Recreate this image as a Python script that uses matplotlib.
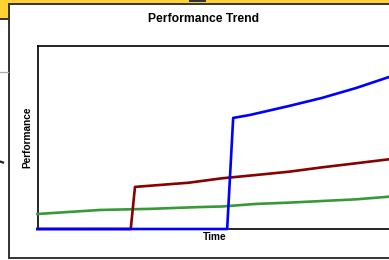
import matplotlib
matplotlib.use("Agg")
import matplotlib.pyplot as plt
from matplotlib.patches import Rectangle
from matplotlib.lines import Line2D

# ---- data (time units 0..100, performance 0..100) ----
blue_x = [0, 53.5, 55.2, 59.9, 70.9, 80.2, 89.8, 100]
blue_y = [0, 0, 60.7, 62.3, 67.2, 71.6, 77.0, 83.6]

red_x = [0, 26.3, 27.5, 42.7, 52.0, 61.6, 70.9, 80.3, 89.8, 100]
red_y = [0, 0, 23.0, 25.3, 27.7, 29.5, 31.3, 33.7, 35.9, 38.3]

green_x = [0, 17.6, 31.7, 45.8, 52.0, 61.6, 70.9, 80.3, 89.8, 100]
green_y = [8.2, 10.4, 11.0, 12.0, 12.3, 13.7, 14.4, 15.3, 16.2, 17.8]

title = "Performance Trend"
xlabel = "Time"
ylabel = "Performance"

W, H = 389, 260
fig = plt.figure(figsize=(W / 100, H / 100), dpi=100)
fig.patch.set_facecolor("white")
plt.rcParams['font.family'] = ['Liberation Sans', 'DejaVu Sans']

def fx(px):
    return px / W

def fy(py):
    return 1 - py / H

# background decorations (slide elements)
fig.add_artist(Rectangle((0, fy(3)), 1, 3 / H, transform=fig.transFigure,
                         facecolor="#FFD133", edgecolor="none", zorder=0))
fig.add_artist(Rectangle((0, fy(18.5)), fx(8.5), 18.5 / H, transform=fig.transFigure,
                         facecolor="#FFD133", edgecolor="none", zorder=0))
fig.add_artist(Line2D([fx(8.5), 1], [fy(3.7), fy(3.7)], transform=fig.transFigure,
                      color="#333333", lw=1.4, zorder=1))
fig.add_artist(Line2D([0, fx(8.5)], [fy(19.2), fy(19.2)], transform=fig.transFigure,
                      color="#333333", lw=1.4, zorder=1))
fig.add_artist(Rectangle((fx(189), fy(1.5)), fx(17), 1.5 / H, transform=fig.transFigure,
                         facecolor="#333333", edgecolor="none", zorder=1))
fig.add_artist(Line2D([fx(8.7), fx(8.7)], [fy(3.5), fy(258.3)], transform=fig.transFigure,
                      color="#333333", lw=1.4, zorder=1))
fig.add_artist(Line2D([fx(8.5), 1], [fy(258.3), fy(258.3)], transform=fig.transFigure,
                      color="#333333", lw=1.4, zorder=1))
fig.add_artist(Line2D([0, fx(8)], [fy(71.7), fy(71.7)], transform=fig.transFigure,
                      color="#AAAAAA", lw=0.9, zorder=1))
fig.add_artist(Line2D([0, fx(3)], [fy(161.5), fy(162.5)], transform=fig.transFigure,
                      color="#222222", lw=1.6, zorder=1))

# axes
L, R, T, B = 37.5, 392, 46, 229
ax = fig.add_axes([fx(L), fy(B), (R - L) / W, (B - T) / H])
ax.set_xlim(0, 100)
ax.set_ylim(0, 100)
ax.set_xticks([])
ax.set_yticks([])
for s in ax.spines.values():
    s.set_color("black")
    s.set_linewidth(1.2)

ax.plot(green_x, green_y, color="#379A37", lw=1.9, zorder=3, clip_on=False)
ax.plot(red_x, red_y, color="#880000", lw=1.9, zorder=4, clip_on=False)
ax.plot(blue_x, blue_y, color="#0000FF", lw=1.9, zorder=5, clip_on=False)

ax.set_xlabel(xlabel, fontsize=7.3, fontweight="bold", labelpad=2)
ax.set_ylabel(ylabel, fontsize=7.3, fontweight="bold", labelpad=4)

fig.text(fx(203.5), fy(19), title, ha="center", va="center",
         fontsize=8.7, fontweight="bold")

fig.savefig("out.png", dpi=100)
